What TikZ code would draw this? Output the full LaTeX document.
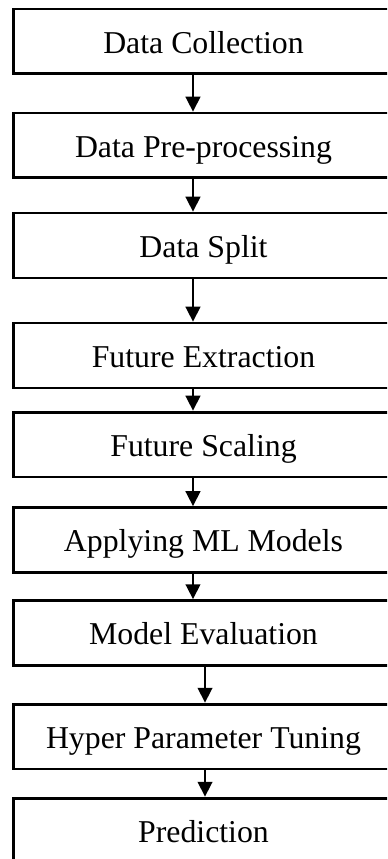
\documentclass[tikz,border=0pt]{standalone}
\usepackage{fontspec}
\setmainfont{Liberation Serif}
\usepackage{tikz}
\usetikzlibrary{arrows.meta, positioning}
\tikzstyle{stage} = [rectangle, draw, line width=1.1pt, minimum width=143.4pt, minimum height=24.5pt, inner sep=0pt, text height=8.9pt, text depth=0pt, font=\fontsize{12}{14}\selectfont]
\tikzstyle{flow} = [-{Triangle[length=5.6pt, width=5.6pt]}, line width=0.6pt]

\begin{document}
\begin{tikzpicture}[x=0.3774pt, y=-0.3774pt]
    \clip (0,0) rectangle (387,859);

    % Stages
    \node[stage] (s1) at (203.5,41.5) {Data Collection};
    \node[stage] (s2) at (203.5,145.5) {Data Pre-processing};
    \node[stage] (s3) at (203.5,245.5) {Data Split};
    \node[stage] (s4) at (203.5,355.5) {Future Extraction};
    \node[stage] (s5) at (203.5,444.5) {Future Scaling};
    \node[stage] (s6) at (203.5,540) {Applying ML Models};
    \node[stage] (s7) at (203.5,633) {Model Evaluation};
    \node[stage] (s8) at (203.5,736.5) {Hyper Parameter Tuning};
    \node[stage] (s9) at (203.5,830.5) {Prediction};

    % Arrows between stages
    \draw[flow] ([xshift=-3.97pt]s1.south) -- ([xshift=-3.97pt]s2.north);
    \draw[flow] ([xshift=-3.97pt]s2.south) -- ([xshift=-3.97pt]s3.north);
    \draw[flow] ([xshift=-3.97pt]s3.south) -- ([xshift=-3.97pt]s4.north);
    \draw[flow] ([xshift=-3.97pt]s4.south) -- ([xshift=-3.97pt]s5.north);
    \draw[flow] ([xshift=-3.97pt]s5.south) -- ([xshift=-3.97pt]s6.north);
    \draw[flow] ([xshift=-3.97pt]s6.south) -- ([xshift=-3.97pt]s7.north);
    \draw[flow] ([xshift=0.57pt]s7.south) -- ([xshift=0.57pt]s8.north);
    \draw[flow] ([xshift=0.57pt]s8.south) -- ([xshift=0.57pt]s9.north);
\end{tikzpicture}
\end{document}
